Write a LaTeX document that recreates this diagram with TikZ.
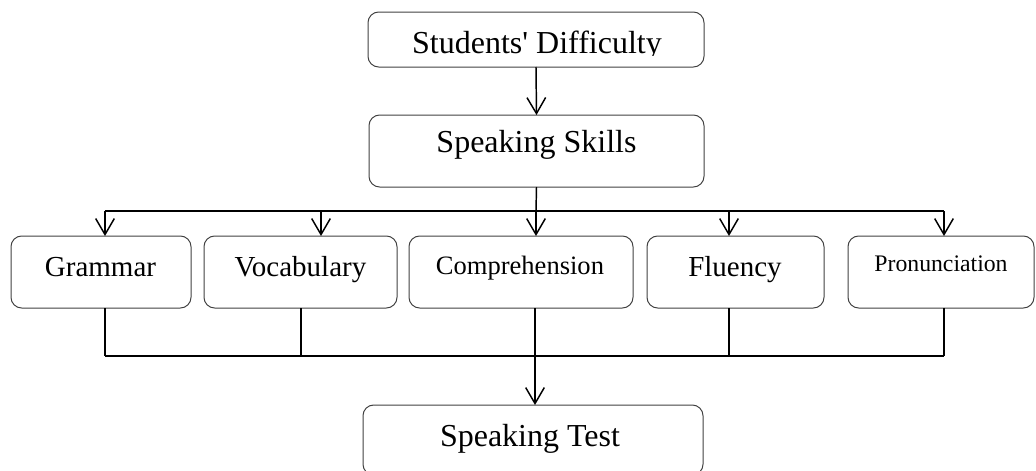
\documentclass[tikz,border=0pt]{standalone}
\usepackage{fontspec}
\setmainfont{Liberation Serif}[Ligatures=TeXOff]
\usetikzlibrary{arrows.meta}
\begin{document}
\begin{tikzpicture}[x=0.75pt,y=-0.75pt,
  bx/.style 2 args={draw=black!75, line width=0.75pt, rounded corners=8pt,
    inner sep=0pt, outer sep=0pt, minimum width={#1*0.75pt}, minimum height={#2*0.75pt}},
  lbl/.style={anchor=base, inner sep=0pt, font=\fontsize{#1}{#1}\selectfont},
  ln/.style={line width=1.1pt, black},
  arr/.style={ln, -{Straight Barb[length=12pt,width=14pt,line width=1.1pt]}}]
\clip (0,0) rectangle (1036,471);
% boxes
\node[bx={336}{55}] (top) at (536,39.5) {};
\node[bx={335}{72}] (ss) at (536.5,151) {};
\node[bx={180}{72}] (gram) at (101,272) {};
\node[bx={193}{72}] (voc) at (300.5,272) {};
\node[bx={224}{72}] (comp) at (521,272) {};
\node[bx={177}{72}] (flu) at (735.5,272) {};
\node[bx={186}{72}] (pron) at (941,272) {};
\node[bx={340}{70}] (test) at (533,440) {};
% texts
\begin{scope}
\clip (360,0) rectangle (712,55);
\node[lbl=24pt] (ttop) at (537,53) {Students' Difficulty};
\end{scope}
\node[lbl=24pt] (tss) at (536.5,152) {Speaking Skills};
\node[lbl=21.75pt] (tgram) at (100.5,276) {Grammar};
\node[lbl=21.75pt] (tvoc) at (300.5,276) {Vocabulary};
\node[lbl=19.9pt] (tcomp) at (520,274) {Comprehension};
\node[lbl=21.75pt] (tflu) at (735,276) {Fluency};
\node[lbl=17.8pt] (tpron) at (941,271) {Pronunciation};
\node[lbl=24pt] (ttest) at (530,446) {Speaking Test};
% coordinates on the buses
\coordinate (bt) at (536,211);
\coordinate (bt1) at (105,211);
\coordinate (bt2) at (321,211);
\coordinate (bt3) at (536,211);
\coordinate (bt4) at (729,211);
\coordinate (bt5) at (944,211);
\coordinate (bb1) at (105,356);
\coordinate (bb2) at (301,356);
\coordinate (bb3) at (535,356);
\coordinate (bb4) at (729,356);
\coordinate (bb5) at (944,356);
% connectors
\draw[arr] (top.south) -- (ss.north);
\draw[ln] (ss.south) -- (bt);
\draw[ln] (bt1) -- (bt5);
\draw[arr] (bt1) -- (bt1 |- gram.north);
\draw[arr] (bt2) -- (bt2 |- voc.north);
\draw[arr] (bt3) -- (bt3 |- comp.north);
\draw[arr] (bt4) -- (bt4 |- flu.north);
\draw[arr] (bt5) -- (bt5 |- pron.north);
\draw[ln] (bb1 |- gram.south) -- (bb1);
\draw[ln] (bb2 |- voc.south) -- (bb2);
\draw[ln] (bb4 |- flu.south) -- (bb4);
\draw[ln] (bb5 |- pron.south) -- (bb5);
\draw[ln] (bb1) -- (bb5);
\draw[arr] (bb3 |- comp.south) -- (bb3 |- test.north);
\end{tikzpicture}
\end{document}
